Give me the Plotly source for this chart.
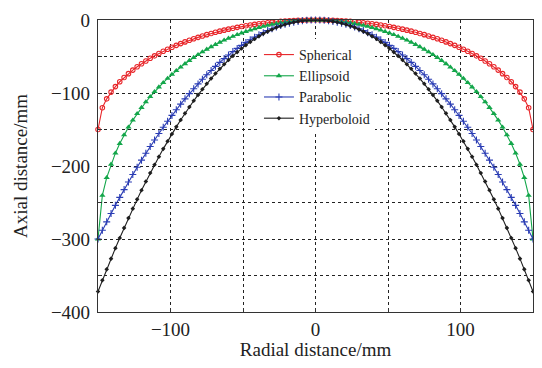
import plotly.graph_objects as go

radial_mm = [-150, -147, -144, -141, -138, -135, -132, -129, -126, -123, -120, -117, -114, -111, -108,
             -105, -102, -99, -96, -93, -90, -87, -84, -81, -78, -75, -72, -69, -66, -63, -60, -57,
             -54, -51, -48, -45, -42, -39, -36, -33, -30, -27, -24, -21, -18, -15, -12, -9, -6, -3,
             0, 3, 6, 9, 12, 15, 18, 21, 24, 27, 30, 33, 36, 39, 42, 45, 48, 51, 54, 57, 60, 63, 66,
             69, 72, 75, 78, 81, 84, 87, 90, 93, 96, 99, 102, 105, 108, 111, 114, 117, 120, 123, 126,
             129, 132, 135, 138, 141, 144, 147, 150]

spherical = [-150.0, -120.2, -108.0, -98.8, -91.2, -84.6, -78.8, -73.5, -68.6, -64.1, -60.0, -56.1,
             -52.5, -49.1, -45.9, -42.9, -40.0, -37.3, -34.7, -32.3, -30.0, -27.8, -25.7, -23.8,
             -21.9, -20.1, -18.4, -16.8, -15.3, -13.9, -12.5, -11.3, -10.1, -8.9, -7.9, -6.9, -6.0,
             -5.2, -4.4, -3.7, -3.0, -2.4, -1.9, -1.5, -1.1, -0.8, -0.5, -0.3, -0.1, 0.0,
             0.0,
             0.0, -0.1, -0.3, -0.5, -0.8, -1.1, -1.5, -1.9, -2.4, -3.0, -3.7, -4.4, -5.2, -6.0,
             -6.9, -7.9, -8.9, -10.1, -11.3, -12.5, -13.9, -15.3, -16.8, -18.4, -20.1, -21.9, -23.8,
             -25.7, -27.8, -30.0, -32.3, -34.7, -37.3, -40.0, -42.9, -45.9, -49.1, -52.5, -56.1,
             -60.0, -64.1, -68.6, -73.5, -78.8, -84.6, -91.2, -98.8, -108.0, -120.2, -150.0]

ellipsoid = [-300.0, -240.3, -216.0, -197.6, -182.4, -169.2, -157.5, -146.9, -137.2, -128.3, -120.0,
             -112.3, -105.0, -98.2, -91.8, -85.8, -80.0, -74.6, -69.5, -64.6, -60.0, -55.6, -51.5,
             -47.5, -43.7, -40.2, -36.8, -33.6, -30.6, -27.7, -25.0, -22.5, -20.1, -17.9, -15.8,
             -13.8, -12.0, -10.3, -8.8, -7.4, -6.1, -4.9, -3.9, -3.0, -2.2, -1.5, -1.0, -0.5, -0.2,
             -0.1,
             0.0,
             -0.1, -0.2, -0.5, -1.0, -1.5, -2.2, -3.0, -3.9, -4.9, -6.1, -7.4, -8.8, -10.3, -12.0,
             -13.8, -15.8, -17.9, -20.1, -22.5, -25.0, -27.7, -30.6, -33.6, -36.8, -40.2, -43.7,
             -47.5, -51.5, -55.6, -60.0, -64.6, -69.5, -74.6, -80.0, -85.8, -91.8, -98.2, -105.0,
             -112.3, -120.0, -128.3, -137.2, -146.9, -157.5, -169.2, -182.4, -197.6, -216.0, -240.3,
             -300.0]

parabolic = [-300.0, -288.1, -276.5, -265.1, -253.9, -243.0, -232.3, -221.9, -211.7, -201.7, -192.0,
             -182.5, -173.3, -164.3, -155.5, -147.0, -138.7, -130.7, -122.9, -115.3, -108.0, -100.9,
             -94.1, -87.5, -81.1, -75.0, -69.1, -63.5, -58.1, -52.9, -48.0, -43.3, -38.9, -34.7,
             -30.7, -27.0, -23.5, -20.3, -17.3, -14.5, -12.0, -9.7, -7.7, -5.9, -4.3, -3.0, -1.9,
             -1.1, -0.5, -0.1,
             0.0,
             -0.1, -0.5, -1.1, -1.9, -3.0, -4.3, -5.9, -7.7, -9.7, -12.0, -14.5, -17.3, -20.3,
             -23.5, -27.0, -30.7, -34.7, -38.9, -43.3, -48.0, -52.9, -58.1, -63.5, -69.1, -75.0,
             -81.1, -87.5, -94.1, -100.9, -108.0, -115.3, -122.9, -130.7, -138.7, -147.0, -155.5,
             -164.3, -173.3, -182.5, -192.0, -201.7, -211.7, -221.9, -232.3, -243.0, -253.9, -265.1,
             -276.5, -288.1, -300.0]

hyperboloid = [-372.0, -356.6, -341.6, -326.9, -312.5, -298.5, -284.8, -271.4, -258.4, -245.7, -233.3,
               -221.3, -209.6, -198.3, -187.2, -176.5, -166.1, -156.1, -146.4, -137.0, -127.9, -119.2,
               -110.7, -102.6, -94.8, -87.4, -80.2, -73.4, -66.9, -60.7, -54.8, -49.2, -44.0, -39.0,
               -34.4, -30.0, -26.0, -22.3, -18.8, -15.7, -12.9, -10.3, -8.1, -6.1, -4.4, -3.0, -1.9,
               -1.0, -0.4, -0.1,
               0.0,
               -0.1, -0.4, -1.0, -1.9, -3.0, -4.4, -6.1, -8.1, -10.3, -12.9, -15.7, -18.8, -22.3,
               -26.0, -30.0, -34.4, -39.0, -44.0, -49.2, -54.8, -60.7, -66.9, -73.4, -80.2, -87.4,
               -94.8, -102.6, -110.7, -119.2, -127.9, -137.0, -146.4, -156.1, -166.1, -176.5, -187.2,
               -198.3, -209.6, -221.3, -233.3, -245.7, -258.4, -271.4, -284.8, -298.5, -312.5, -326.9,
               -341.6, -356.6, -372.0]

x_ticks = [-100, 0, 100]
y_ticks = [0, -100, -200, -300, -400]

series = [
    ("Spherical", spherical, "#e8262a", dict(symbol="circle-open", size=4.5, line=dict(width=1.1))),
    ("Ellipsoid", ellipsoid, "#13a64a", dict(symbol="triangle-up", size=5.5)),
    ("Parabolic", parabolic, "#2a3cb4", dict(symbol="cross-thin-open", size=5, line=dict(width=1.1))),
    ("Hyperboloid", hyperboloid, "#1e1e1e", dict(symbol="diamond", size=3.5)),
]

fig = go.Figure()
for name, ys, color, mk in series:
    mk = dict(mk)
    mk["color"] = color
    if "line" in mk:
        mk["line"] = dict(mk["line"], color=color)
    fig.add_trace(go.Scatter(
        x=radial_mm, y=ys, name=name, mode="lines+markers",
        line=dict(color=color, width=1.1), marker=mk, cliponaxis=False,
    ))

serif = "Liberation Serif, Times New Roman, serif"
axis_common = dict(
    showline=True, linecolor="#333", linewidth=1.2, mirror=True,
    showgrid=True, gridcolor="#222", griddash="dot", gridwidth=1,
    zeroline=False, ticks="inside", ticklen=4, tickcolor="#333",
    automargin=False,
    tickfont=dict(family=serif, size=19, color="#222"),
    title_font=dict(family=serif, size=19, color="#222"),
    minor=dict(dtick=50, showgrid=True, gridcolor="#222", griddash="dot",
               gridwidth=1, ticks="inside", ticklen=4, tickcolor="#333"),
)

fig.update_xaxes(range=[-150, 150], tickvals=x_ticks, title_text="Radial distance/mm",
                 title_standoff=3, ticklabelstandoff=0, **axis_common)
fig.update_yaxes(range=[-400, 0], tickvals=y_ticks, title_text="Axial distance/mm",
                 title_standoff=18, ticklabelstandoff=3, **axis_common)

# the page body keeps an 8px margin: the figure is sized so that it fits the window without scrolling
fig.update_layout(
    width=526, height=352,
    margin=dict(l=90, r=1, t=12, b=48),
    paper_bgcolor="white", plot_bgcolor="white",
    showlegend=True,
    legend=dict(x=0.37, y=0.935, xanchor="left", yanchor="top",
                bgcolor="white", borderwidth=0, tracegroupgap=0,
                font=dict(family=serif, size=14, color="#222")),
)

fig.write_html("out.html")
